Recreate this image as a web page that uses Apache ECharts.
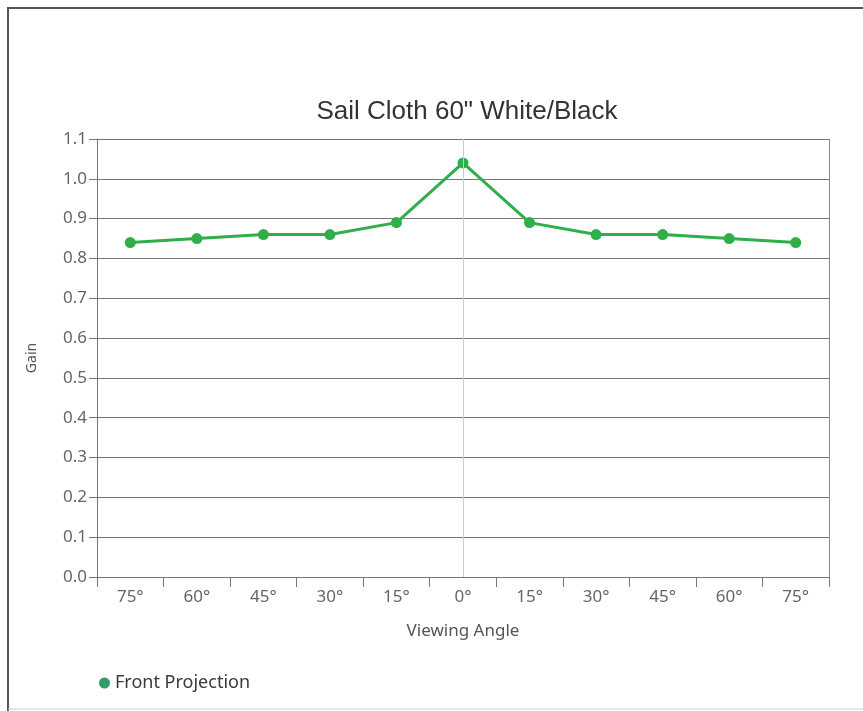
<!DOCTYPE html>
<html>
<head>
<meta charset="utf-8">
<script src="https://cdn.jsdelivr.net/npm/echarts@6/dist/echarts.min.js"></script>
<style>
  html, body { margin: 0; padding: 0; background: #fff; }
  #chart { width: 863px; height: 711px; }
</style>
</head>
<body>
<div id="chart"></div>
<script>
// viewing angles, left to right
var angles = ['75°', '60°', '45°', '30°', '15°', '0°', '15°', '30°', '45°', '60°', '75°']
// gain for front projection
var gain = [0.84, 0.85, 0.86, 0.86, 0.89, 1.04, 0.89, 0.86, 0.86, 0.85, 0.84]

var chart = echarts.init(document.getElementById('chart'))
var font = 'Noto Sans, sans-serif'

chart.setOption({
  animation: false,
  title: {
    text: 'Sail Cloth 60" White/Black',
    left: 462,
    textAlign: 'center',
    top: 94,
    textStyle: { fontFamily: 'Liberation Sans, sans-serif', fontSize: 26, fontWeight: 'normal', color: '#333' }
  },
  legend: {
    left: 94,
    top: 669,
    icon: 'circle',
    itemWidth: 11,
    itemHeight: 11,
    itemGap: 6,
    data: [{ name: 'Front Projection', itemStyle: { color: '#2e9d6c' } }],
    textStyle: { fontFamily: font, fontSize: 18, color: '#3a3a3a' }
  },
  graphic: [
    { type: 'line', shape: { x1: 7, y1: 8, x2: 863, y2: 8 }, style: { stroke: '#555', lineWidth: 2 } },
    { type: 'line', shape: { x1: 8, y1: 8, x2: 8, y2: 711 }, style: { stroke: '#555', lineWidth: 2 } },
    { type: 'line', shape: { x1: 8, y1: 709, x2: 863, y2: 709 }, style: { stroke: '#ccc', lineWidth: 1 } },
    { type: 'line', shape: { x1: 829.5, y1: 139, x2: 829.5, y2: 577 }, style: { stroke: '#888', lineWidth: 1 } }
  ],
  grid: { left: 97, right: 34, top: 139, bottom: 134 },
  xAxis: {
    type: 'category',
    data: angles,
    name: 'Viewing Angle',
    nameLocation: 'middle',
    nameGap: 46,
    nameTextStyle: { fontFamily: font, fontSize: 17, color: '#555' },
    axisLine: { show: true, lineStyle: { color: '#777', width: 1 } },
    axisTick: { show: true, length: 10, lineStyle: { color: '#777' } },
    axisLabel: { margin: 12, fontFamily: font, fontSize: 17, color: '#666' }
  },
  yAxis: {
    type: 'value',
    min: 0,
    max: 1.1,
    interval: 0.1,
    name: 'Gain',
    nameLocation: 'middle',
    nameRotate: 90,
    nameGap: 58,
    nameTextStyle: { fontFamily: font, fontSize: 14, color: '#555' },
    axisLine: { show: true, lineStyle: { color: '#777', width: 1 } },
    axisTick: { show: true, length: 8, lineStyle: { color: '#777' } },
    axisLabel: {
      margin: 10,
      fontFamily: font,
      fontSize: 17,
      color: '#666',
      formatter: function (v) { return v.toFixed(1) }
    },
    splitLine: { lineStyle: { color: '#777', width: 1 } }
  },
  series: [
    {
      name: 'Front Projection',
      type: 'line',
      data: gain,
      symbol: 'circle',
      symbolSize: 11,
      itemStyle: { color: '#2fae4a' },
      lineStyle: { color: '#2fae4a', width: 3 },
      markLine: {
        silent: true,
        symbol: 'none',
        label: { show: false },
        lineStyle: { color: '#ccc', type: 'solid', width: 1 },
        data: [{ xAxis: 5 }]
      }
    }
  ]
})
</script>
</body>
</html>
